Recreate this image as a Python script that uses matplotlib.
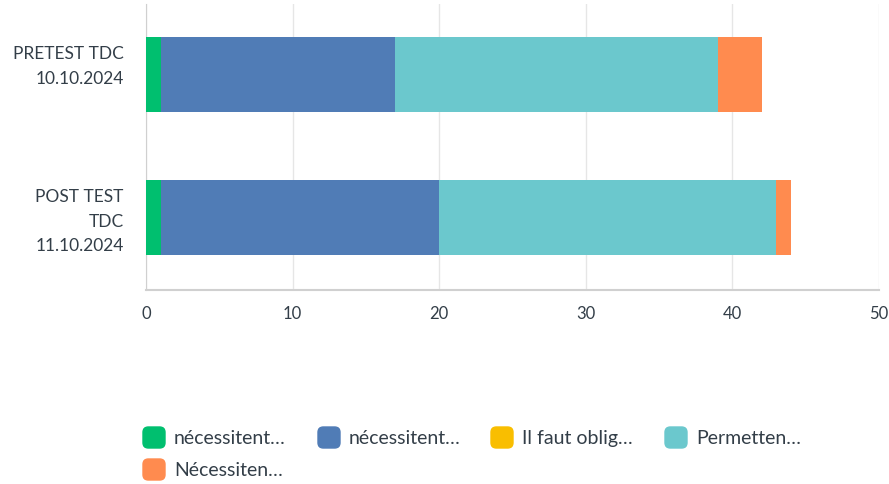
import matplotlib
matplotlib.use("Agg")
import matplotlib.pyplot as plt
from matplotlib.patches import FancyBboxPatch
from matplotlib.transforms import ScaledTranslation
import numpy as np

# Response counts per test session
categories = ["PRETEST TDC\n10.10.2024", "POST TEST\nTDC\n11.10.2024"]
series_labels = ["nécessitent…", "nécessitent…", "Il faut oblig…", "Permetten…", "Nécessiten…"]
series_colors = ["#00BF6F", "#507CB6", "#F9BE00", "#6BC8CD", "#FF8B4F"]
green = [1, 1]
blue = [16, 19]
yellow = [0, 0]
teal = [22, 23]
orange = [3, 1]
x_ticks = [0, 10, 20, 30, 40, 50]

plt.rcParams["font.family"] = ["Lato", "DejaVu Sans"]
text_color = "#333e48"

fig = plt.figure(figsize=(8.89, 4.85), dpi=100)
ax = fig.add_axes([146 / 889, 1 - 291 / 485, (879 - 146) / 889, (291 - 5) / 485])

y = np.arange(len(categories))
left = np.zeros(len(categories))
for vals, col in zip([green, blue, yellow, teal, orange], series_colors):
    ax.barh(y, vals, left=left, height=0.525, color=col, zorder=3)
    left += np.array(vals)

ax.set_ylim(1.507, -0.493)
ax.set_xlim(0, 50)
ax.set_xticks(x_ticks)
ax.set_yticks(y)
ax.set_yticklabels(categories, fontsize=12.5, color=text_color, linespacing=1.65)
ax.tick_params(axis="x", labelsize=12, colors=text_color, length=0, pad=11)
ax.tick_params(axis="y", length=0, pad=16)
# labels hang from just below the top of each bar, as in the original
shift = ScaledTranslation(0, 0.29, fig.dpi_scale_trans)
for lab in ax.get_yticklabels():
    lab.set_va("top")
    lab.set_transform(lab.get_transform() + shift)
ax.grid(True, axis="x", color="#e6e6e6", linewidth=1, zorder=0)
for s in ["top", "right"]:
    ax.spines[s].set_visible(False)
ax.spines["left"].set_color("#d0d0d0")
ax.spines["bottom"].set_color("#d0d0d0")
ax.spines["bottom"].set_linewidth(1.5)

# legend: rounded swatches laid out like the original
col_x = [143, 318, 491, 665]
row_y = [438.5, 470.5]
for i, (lbl, col) in enumerate(zip(series_labels, series_colors)):
    cx = col_x[i % 4]
    cy = row_y[i // 4]
    box = FancyBboxPatch(((cx) / 889, 1 - (cy + 10.5) / 485), 22 / 889, 21 / 485,
                         boxstyle="round,pad=0,rounding_size=0.006",
                         transform=fig.transFigure, color=col, mutation_aspect=889 / 485)
    fig.patches.append(box)
    fig.text((cx + 31) / 889, 1 - cy / 485, lbl, fontsize=14, color=text_color,
             va="center", ha="left")

fig.savefig("out.png", dpi=100)
